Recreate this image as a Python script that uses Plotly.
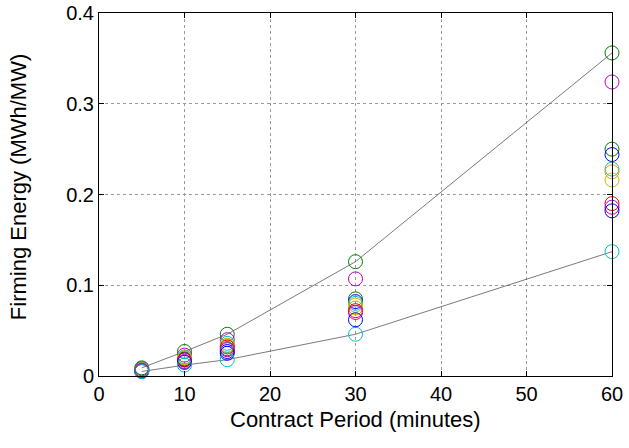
import plotly.graph_objects as go

# Contract periods (minutes)
periods = [5, 10, 15, 30, 60]

# Firming energy (MWh/MW) for each case
series_names = ["Case 1", "Case 2", "Case 3", "Case 4", "Case 5", "Case 6",
                "Case 7", "Case 8", "Case 9", "Case 10", "Case 11"]
case_1 = [0.009, 0.027, 0.046, 0.126, 0.356]
case_2 = [0.008, 0.023, 0.040, 0.107, 0.324]
case_3 = [0.007, 0.019, 0.030, 0.085, 0.250]
case_4 = [0.007, 0.018, 0.027, 0.082, 0.244]
case_5 = [0.007, 0.021, 0.036, 0.080, 0.228]
case_6 = [0.007, 0.020, 0.034, 0.075, 0.225]
case_7 = [0.006, 0.020, 0.033, 0.078, 0.216]
case_8 = [0.006, 0.0176, 0.032, 0.072, 0.190]
case_9 = [0.006, 0.016, 0.029, 0.070, 0.186]
case_10 = [0.005, 0.015, 0.025, 0.062, 0.182]
case_11 = [0.005, 0.012, 0.018, 0.046, 0.137]

all_cases = [case_1, case_2, case_3, case_4, case_5, case_6,
             case_7, case_8, case_9, case_10, case_11]
case_colors = ["#008000", "#BF00BF", "#008000", "#0000FF", "#00BFBF", "#E0A000",
               "#BFBF00", "#FF0000", "#BF00BF", "#0000FF", "#00BFBF"]

x_title = "Contract Period (minutes)"
y_title = "Firming Energy (MWh/MW)"

# Upper and lower envelopes
upper_env = case_1
lower_env = case_11

fig = go.Figure()

for env in (upper_env, lower_env):
    fig.add_trace(go.Scatter(
        x=periods, y=env, mode="lines",
        line=dict(color="#404040", width=0.7),
        showlegend=False, hoverinfo="skip", cliponaxis=False,
    ))

for name, vals, col in zip(series_names, all_cases, case_colors):
    fig.add_trace(go.Scatter(
        x=periods, y=vals, mode="markers", name=name,
        marker=dict(symbol="circle-open", size=14, color=col, line=dict(width=1)),
        showlegend=False, cliponaxis=False,
    ))

font_family = "Liberation Sans, Arial, sans-serif"
axis_common = dict(
    showline=True, linecolor="black", linewidth=1, mirror="allticks",
    ticks="inside", ticklen=5, tickcolor="black",
    showgrid=True, gridcolor="#9a9a9a", griddash="dot", gridwidth=1,
    zeroline=False, automargin=False,
    tickfont=dict(family=font_family, size=20, color="black"),
)

fig.update_xaxes(range=[0, 60], tickvals=[0, 10, 20, 30, 40, 50, 60], **axis_common)
fig.update_yaxes(
    range=[0, 0.4], tickvals=[0, 0.1, 0.2, 0.3, 0.4],
    ticktext=["0", "0.1", "0.2", "0.3", "0.4"],
    **axis_common,
)

# Axis titles placed as paper-anchored text for tight spacing to tick labels
title_font = dict(family=font_family, size=22, color="black")
fig.add_annotation(text=x_title, xref="paper", yref="paper", x=0.5, y=-0.119,
                   xanchor="center", yanchor="middle", showarrow=False, font=title_font)
fig.add_annotation(text=y_title, xref="paper", yref="paper", x=-0.158, y=0.52,
                   xanchor="center", yanchor="middle", textangle=-90,
                   showarrow=False, font=title_font)

fig.update_layout(
    width=629, height=448,
    margin=dict(l=99, r=17, t=13, b=72),
    paper_bgcolor="white", plot_bgcolor="white",
    font=dict(family=font_family, color="black"),
)

fig.write_html("out.html")
